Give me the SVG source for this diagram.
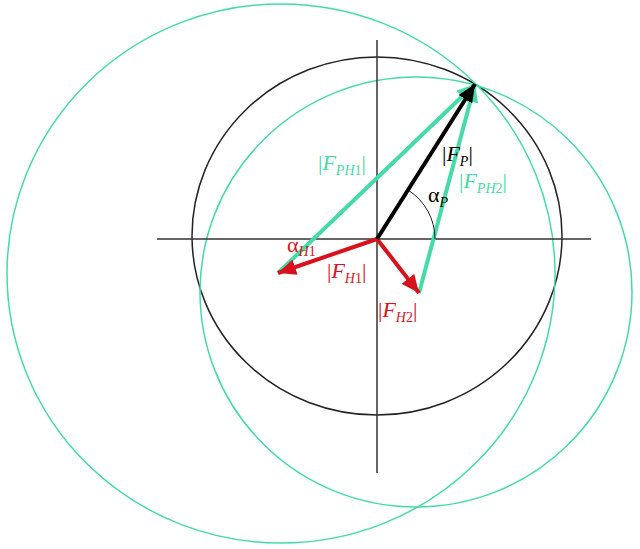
<svg xmlns="http://www.w3.org/2000/svg" width="640" height="549" viewBox="0 0 640 549">
<style>
.circ{fill:none;stroke-width:1.5}
.g{stroke:#45dba6}
.k{stroke:#222}
.ax{stroke:#333;stroke-width:1.5}
.vec{stroke-width:4;fill:none}
text{font-family:"Liberation Serif","Times New Roman",serif;font-size:22px}
.i{font-style:italic}
.s{font-size:14px}
.tg{fill:#45dba6}
.tr{fill:#d8121c}
.tk{fill:#000}
</style>
<defs>
<marker id="hk" markerUnits="userSpaceOnUse" markerWidth="18" markerHeight="16" refX="18" refY="8" orient="auto"><path d="M0,0 L18,8 L0,16 z" fill="#000"/></marker>
<marker id="hr" markerUnits="userSpaceOnUse" markerWidth="18" markerHeight="16" refX="18" refY="8" orient="auto"><path d="M0,0 L18,8 L0,16 z" fill="#d8121c"/></marker>
<marker id="hg" markerUnits="userSpaceOnUse" markerWidth="18" markerHeight="16" refX="18" refY="8" orient="auto"><path d="M0,0 L18,8 L0,16 z" fill="#45dba6"/></marker>
</defs>
<rect width="640" height="549" fill="#fff"/>
<g id="circles">
<ellipse id="circleP" class="circ k" cx="377" cy="236" rx="185" ry="179"/>
<ellipse id="circleH1" class="circ g" cx="281" cy="273.5" rx="274" ry="269.5"/>
<ellipse id="circleH2" class="circ g" cx="416" cy="292" rx="216" ry="215"/>
</g>
<g id="axes">
<line class="ax" x1="157" y1="239" x2="591" y2="239"/>
<line class="ax" x1="377" y1="40" x2="377" y2="473"/>
</g>
<g id="connectors">
<line id="FPH1" class="vec" stroke="#45dba6" x1="278" y1="273" x2="475" y2="84" marker-end="url(#hg)"/>
<line id="FPH2" class="vec" stroke="#45dba6" x1="419" y1="293" x2="475" y2="84" marker-end="url(#hg)"/>
<line id="FH1" class="vec" stroke="#d8121c" x1="377" y1="239" x2="278" y2="273" marker-end="url(#hr)"/>
<line id="FH2" class="vec" stroke="#d8121c" x1="377" y1="239" x2="419" y2="293" marker-end="url(#hr)"/>
<line id="FP" class="vec" stroke="#000" x1="377" y1="239" x2="475" y2="84" marker-end="url(#hk)"/>
<path id="arcP" d="M408.3,190.2 A58,58 0 0 1 435,239" fill="none" stroke="#222" stroke-width="1"/>
</g>
<g id="labels">
<text class="tg" x="318" y="170">|<tspan class="i">F</tspan><tspan class="s i" dy="5">PH</tspan><tspan class="s" >1</tspan><tspan dy="-5">|</tspan></text>
<text class="tk" x="442" y="161">|<tspan class="i">F</tspan><tspan class="s i" dy="5">P</tspan><tspan dy="-5">|</tspan></text>
<text class="tg" x="459" y="188">|<tspan class="i">F</tspan><tspan class="s i" dy="5">PH</tspan><tspan class="s">2</tspan><tspan dy="-5">|</tspan></text>
<text class="tk" x="428" y="202">α<tspan class="s i" dy="5">P</tspan></text>
<text class="tr" x="287" y="252">α<tspan class="s i" dy="4">H</tspan><tspan class="s">1</tspan></text>
<text class="tr" x="327" y="278">|<tspan class="i">F</tspan><tspan class="s i" dy="5">H</tspan><tspan class="s">1</tspan><tspan dy="-5">|</tspan></text>
<text class="tr" x="378" y="317">|<tspan class="i">F</tspan><tspan class="s i" dy="5">H</tspan><tspan class="s">2</tspan><tspan dy="-5">|</tspan></text>
</g>
</svg>
